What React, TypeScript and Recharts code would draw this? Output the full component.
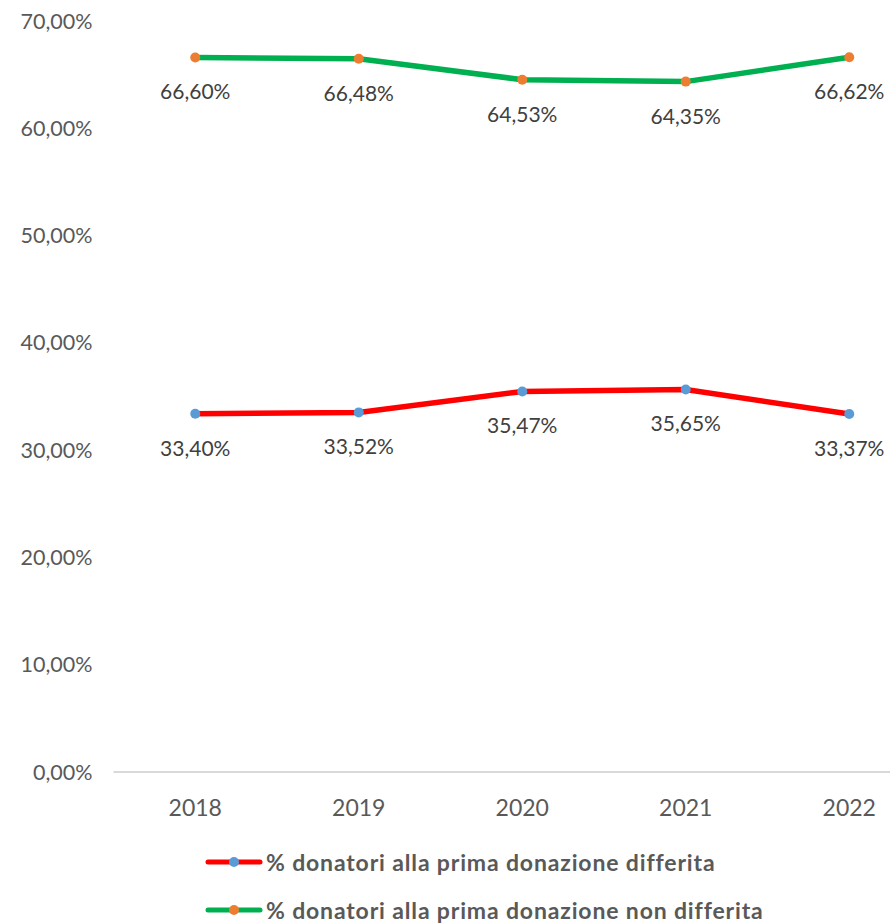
import React from "react";
import { LineChart, Line, XAxis, YAxis, LabelList, Legend } from "recharts";

const years = ["2018", "2019", "2020", "2021", "2022"];
const differita = [33.4, 33.52, 35.47, 35.65, 33.37];
const nonDifferita = [66.6, 66.48, 64.53, 64.35, 66.62];
const yTicks = [0, 10, 20, 30, 40, 50, 60, 70];
const seriesNames = [
  "% donatori alla prima donazione differita",
  "% donatori alla prima donazione non differita",
];

const data = years.map((y, i) => ({
  year: y,
  differita: differita[i],
  nonDifferita: nonDifferita[i],
}));

const FONT = "Lato, 'Open Sans', sans-serif";
const pct = (v: number) => v.toFixed(2).replace(".", ",") + "%";

const legendItems = [
  { name: seriesNames[0], line: "#FF0000", dot: "#5B9BD5" },
  { name: seriesNames[1], line: "#00B050", dot: "#ED7D31" },
];

const LegendContent = () => (
  <div style={{ position: "relative", height: 105, width: 890 }}>
    {legendItems.map((it, i) => (
      <div
        key={i}
        style={{
          position: "absolute",
          left: 205,
          top: 44 + i * 48 - 15,
          height: 30,
          display: "flex",
          alignItems: "center",
          whiteSpace: "nowrap",
        }}
      >
        <svg width={58} height={12} style={{ marginRight: 3 }}>
          <line x1={3} y1={6} x2={55} y2={6} stroke={it.line} strokeWidth={5} strokeLinecap="round" />
          <circle cx={29} cy={6} r={5} fill={it.dot} />
        </svg>
        <span
          style={{
            fontFamily: FONT,
            fontWeight: 700,
            fontSize: 23,
            letterSpacing: 0.85,
            color: "#595959",
          }}
        >
          {it.name}
        </span>
      </div>
    ))}
  </div>
);

export default function App() {
  return (
    <div
      style={{
        position: "absolute",
        left: 0,
        top: 0,
        width: 890,
        height: 923,
        overflow: "hidden",
        background: "#ffffff",
      }}
    >
      <LineChart
        width={931}
        height={923}
        data={data}
        margin={{ top: 21, right: 0, bottom: 0, left: 0 }}
      >
        <XAxis
          dataKey="year"
          padding={{ left: 81.75, right: 81.75 }}
          height={46}
          tickLine={false}
          axisLine={{ stroke: "#D9D9D9", strokeWidth: 2 }}
          tick={{ fill: "#595959", fontSize: 23, fontFamily: FONT }}
          tickMargin={22}
        />
        <YAxis
          width={113.5}
          domain={[0, 70]}
          ticks={yTicks}
          tickFormatter={(v: number) => pct(v)}
          axisLine={false}
          tickLine={false}
          tickMargin={15}
          tick={{ fill: "#595959", fontSize: 21.5, fontFamily: FONT }}
        />
        <Legend verticalAlign="bottom" align="left" content={<LegendContent />} />
        <Line
          dataKey="differita"
          name={seriesNames[0]}
          stroke="#FF0000"
          strokeWidth={5.5}
          dot={{ r: 5, fill: "#5B9BD5", stroke: "none", strokeWidth: 0 }}
          activeDot={false}
          isAnimationActive={false}
        >
          <LabelList
            dataKey="differita"
            position="bottom"
            offset={27}
            formatter={(v: number) => pct(v)}
            style={{ fill: "#404040", fontSize: 21, fontFamily: FONT }}
          />
        </Line>
        <Line
          dataKey="nonDifferita"
          name={seriesNames[1]}
          stroke="#00B050"
          strokeWidth={5.5}
          dot={{ r: 5, fill: "#ED7D31", stroke: "none", strokeWidth: 0 }}
          activeDot={false}
          isAnimationActive={false}
        >
          <LabelList
            dataKey="nonDifferita"
            position="bottom"
            offset={27}
            formatter={(v: number) => pct(v)}
            style={{ fill: "#404040", fontSize: 21, fontFamily: FONT }}
          />
        </Line>
      </LineChart>
    </div>
  );
}
